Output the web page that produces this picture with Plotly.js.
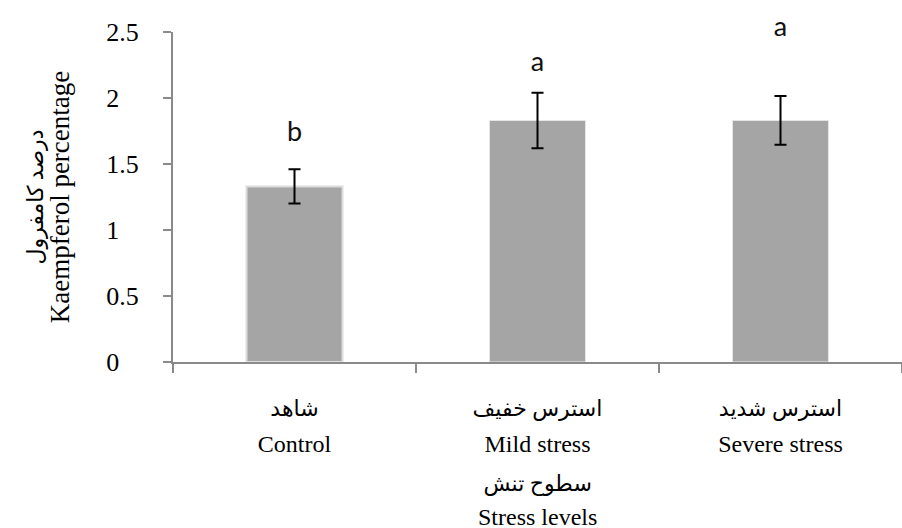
<!DOCTYPE html>
<html>
<head>
<meta charset="utf-8">
<script src="https://cdn.plot.ly/plotly-3.0.1.min.js"></script>
<style>html,body{margin:0;padding:0;background:#fff;}#chart{width:902px;height:528px;}</style>
</head>
<body>
<div id="chart"></div>
<script>
// ---- data ----
const catFa = ['شاهد', 'استرس خفیف', 'استرس شدید'];
const catEn = ['Control', 'Mild stress', 'Severe stress'];
const values = [1.33, 1.83, 1.83];
const errors = [0.13, 0.21, 0.185];
const letters = ['b', 'a', 'a'];
const letterY = [1.62, 2.15, 2.42];
const yTickVals = [0, 0.5, 1, 1.5, 2, 2.5];
const yTickText = ['0', '0.5', '1', '1.5', '2', '2.5'];
const xTitleFa = 'سطوح تنش';
const xTitleEn = 'Stress levels';
const yTitleFa = 'درصد کامفرول';
const yTitleEn = 'Kaempferol percentage';

const span = (t, px) => '<span style="font-size:' + px + 'px">' + t + '</span>';
const cats = catFa.map((f, i) => span(f, 22) + '<br>' + span(catEn[i], 24));
// pad integer labels so they line up on the left like the original
const padText = yTickText.map(t => t.indexOf('.') < 0 ? t + '\u00a0\u00a0\u00a0' : t);

const serif = 'Liberation Serif, Times New Roman, DejaVu Sans, serif';
const axisGray = '#8a8a8a';

const bars = {
  type: 'bar',
  x: cats,
  y: values,
  marker: {color: '#a5a5a5', line: {color: ['#dcdcdc', '#e6e6e6', '#e6e6e6'], width: [2, 1, 1]}},
  error_y: {type: 'data', array: errors, visible: true, color: '#000', thickness: 2, width: 6},
  hoverinfo: 'skip',
  showlegend: false
};

const labels = {
  type: 'scatter',
  mode: 'text',
  x: cats,
  y: letterY,
  text: letters,
  textposition: 'top center',
  textfont: {family: 'Lato, Open Sans, sans-serif', size: 27, color: '#111'},
  cliponaxis: false,
  hoverinfo: 'skip',
  showlegend: false
};

const layout = {
  width: 902,
  height: 528,
  margin: {l: 173, r: 0, t: 32, b: 166},
  paper_bgcolor: '#fff',
  plot_bgcolor: '#fff',
  bargap: 0.605,
  showlegend: false,
  xaxis: {
    type: 'category',
    range: [-0.5, 2.5],
    showline: true,
    linecolor: axisGray,
    linewidth: 2,
    ticks: 'outside',
    tickson: 'boundaries',
    ticklen: 9,
    tickwidth: 2,
    tickcolor: axisGray,
    showgrid: false,
    zeroline: false,
    tickfont: {family: serif, size: 27, color: '#000'},
    ticklabelstandoff: 20
  },
  yaxis: {
    range: [0, 2.5],
    tickmode: 'array',
    tickvals: yTickVals,
    ticktext: padText,
    showline: true,
    linecolor: axisGray,
    linewidth: 2,
    ticks: 'outside',
    ticklen: 8,
    tickwidth: 2,
    tickcolor: axisGray,
    showgrid: false,
    zeroline: false,
    tickfont: {family: serif, size: 26, color: '#000'},
    ticklabelstandoff: 19,
    title: {
      text: span(yTitleFa, 22) + '<br>' + span(yTitleEn, 27),
      font: {family: serif, size: 20, color: '#000'},
      standoff: 31
    }
  },
  annotations: [{
    // x-axis title (two lines, Persian over English), placed below the tick labels
    text: span(xTitleFa, 22) + '<br>' + span(xTitleEn, 24),
    font: {family: serif, size: 26, color: '#000'},
    xref: 'paper', yref: 'paper',
    x: 0.5, y: 0,
    xanchor: 'center', yanchor: 'middle',
    yshift: -138,
    showarrow: false
  }]
};

Plotly.newPlot('chart', [bars, labels], layout, {displayModeBar: false, staticPlot: true});
</script>
</body>
</html>
